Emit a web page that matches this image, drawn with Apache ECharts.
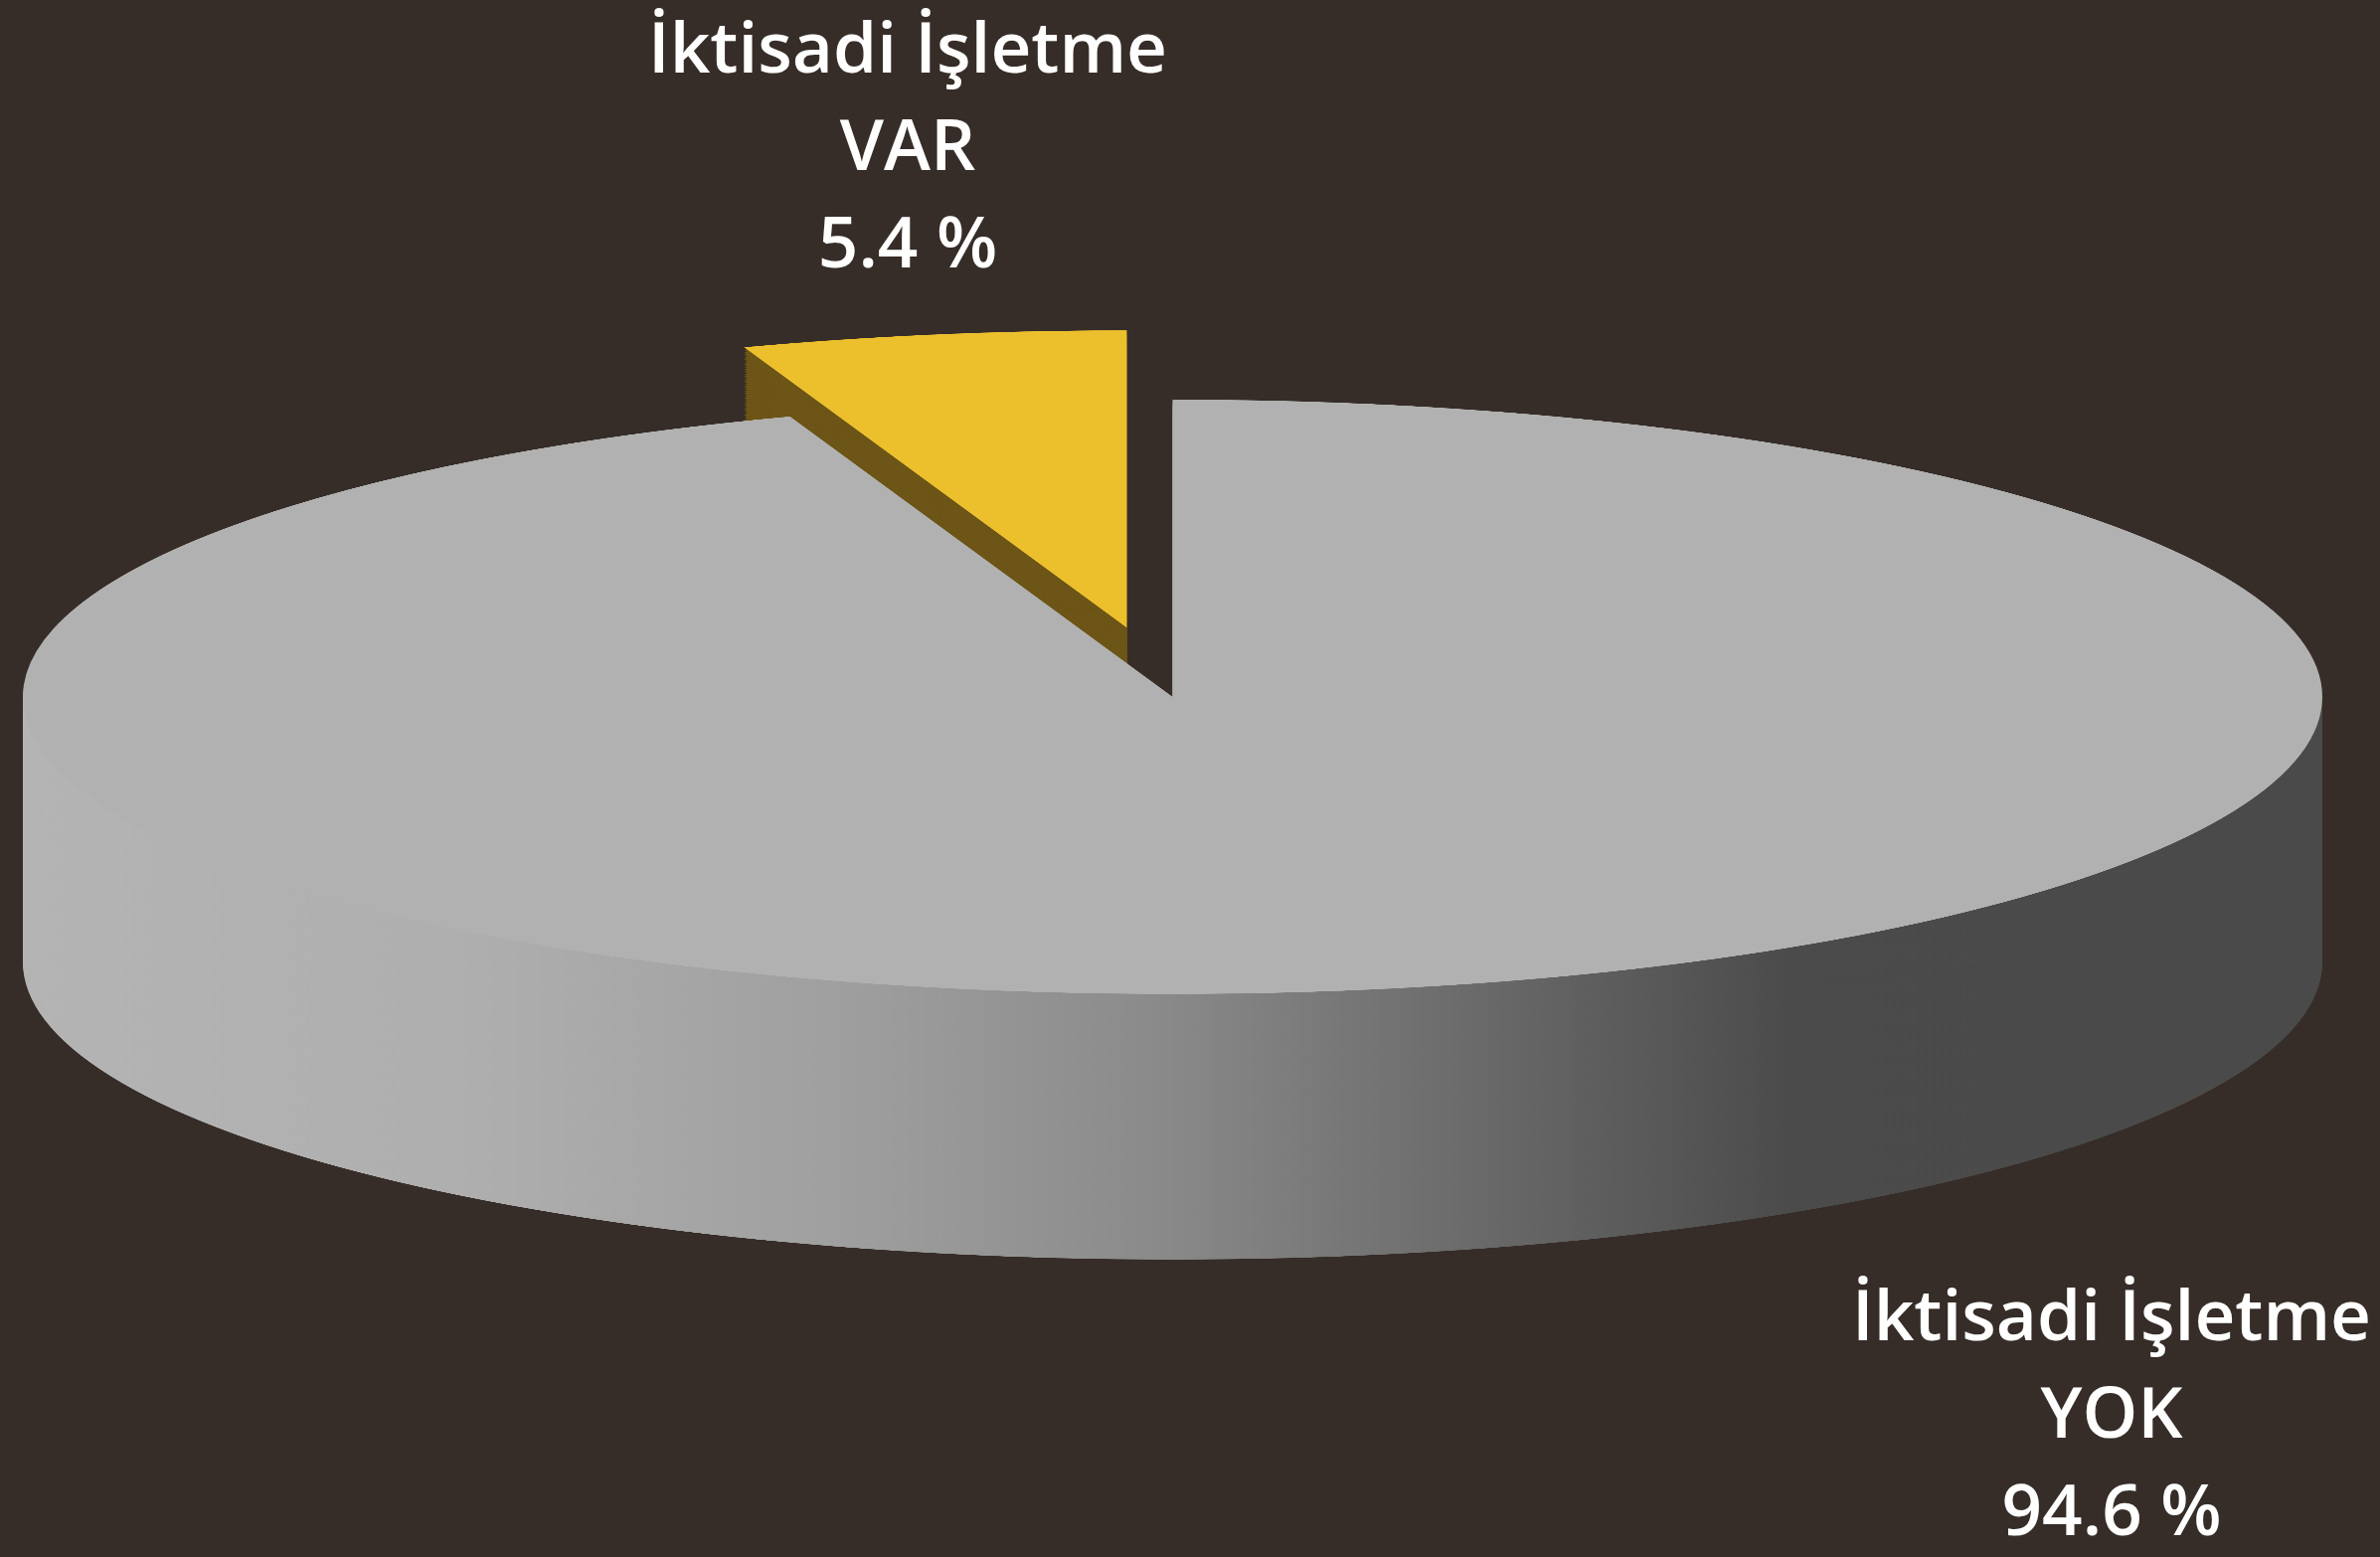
<!DOCTYPE html>
<html>
<head>
<meta charset="utf-8">
<script src="https://cdn.jsdelivr.net/npm/echarts@6/dist/echarts.min.js"></script>
<style>
  html, body { margin: 0; padding: 0; background: #362d28; overflow: hidden; }
  #wrap { position: relative; width: 2394px; height: 1566px; overflow: hidden; background: #362d28; }
  #pie { position: absolute; left: 0; transform-origin: 0 0; }
  #labels { position: absolute; left: 0; top: 0; width: 2394px; height: 1566px; pointer-events: none; }
</style>
</head>
<body>
<div id="wrap">
  <div id="pie"></div>
  <div id="labels"></div>
</div>
<script>
// ---- data ----
const groupName = 'İktisadi İşletme';
const categories = ['YOK', 'VAR'];
const values = [94.6, 5.4];

// ---- styling / layout ----
const topColors = ['#b1b1b1', '#ecbf2d'];
const sideGradient = {
  type: 'linear', x: 23, y: 0, x2: 2336, y2: 0, global: true,
  colorStops: [
    { offset: 0.00, color: '#b4b4b4' },
    { offset: 0.19, color: '#afafaf' },
    { offset: 0.35, color: '#a0a0a0' },
    { offset: 0.49, color: '#8b8b8b' },
    { offset: 0.65, color: '#666666' },
    { offset: 0.77, color: '#4b4b4b' },
    { offset: 1.00, color: '#4a4a4a' }
  ]
};
const sideColors = [sideGradient, '#6c5516'];

const W = 2394, H = 1566;
const CX = 1179.5, CY = 701, RX = 1156.5, RY = 299, DEPTH = 267;
const EXPLODE = 273;               // radial offset of selected slice (unscaled units)
const S = RY / RX;                 // vertical squash
const PRE_CY = 1500;
const PRE_DEPTH = DEPTH / S;
const PRE_H = Math.ceil(PRE_CY + RX + PRE_DEPTH + 60);
const N = 110;
const labelPos = [[2124, 1279], [913, 4]];

const pieDiv = document.getElementById('pie');
pieDiv.style.width = W + 'px';
pieDiv.style.height = PRE_H + 'px';
pieDiv.style.top = (CY - PRE_CY * S) + 'px';
pieDiv.style.transform = 'scaleY(' + S + ')';

function layer(off, isTop) {
  return {
    type: 'pie',
    radius: RX,
    center: [CX, PRE_CY + off],
    startAngle: 90,
    clockwise: true,
    animation: false,
    selectedMode: 'single',
    selectedOffset: EXPLODE,
    label: { show: false },
    labelLine: { show: false },
    emphasis: { disabled: true },
    itemStyle: { borderWidth: 0 },
    data: categories.map((c, i) => {
      const col = isTop ? topColors[i] : sideColors[i];
      return {
        name: groupName + ' ' + c,
        value: values[i],
        selected: i === 1,
        itemStyle: { color: col, borderWidth: 0 },
        select: { itemStyle: { color: col, borderWidth: 0 } }
      };
    })
  };
}

const series = [];
for (let k = N; k >= 0; k--) {
  series.push(layer(PRE_DEPTH * k / N, k === 0));
}

const pieChart = echarts.init(pieDiv, null, { width: W, height: PRE_H, renderer: 'canvas' });
pieChart.setOption({
  backgroundColor: 'transparent',
  animation: false,
  series: series
});

const labelChart = echarts.init(document.getElementById('labels'), null, { width: W, height: H });
labelChart.setOption({
  backgroundColor: 'transparent',
  animation: false,
  graphic: categories.map((c, i) => ({
    type: 'text',
    x: labelPos[i][0],
    y: labelPos[i][1],
    silent: true,
    style: {
      text: groupName + '\n' + c + '\n' + values[i].toFixed(1) + ' %',
      fill: '#ffffff',
      fontFamily: '"Open Sans", "Noto Sans", sans-serif',
      fontWeight: 600,
      fontSize: 71,
      lineHeight: 98,
      align: 'center',
      verticalAlign: 'top'
    }
  }))
});
</script>
</body>
</html>
